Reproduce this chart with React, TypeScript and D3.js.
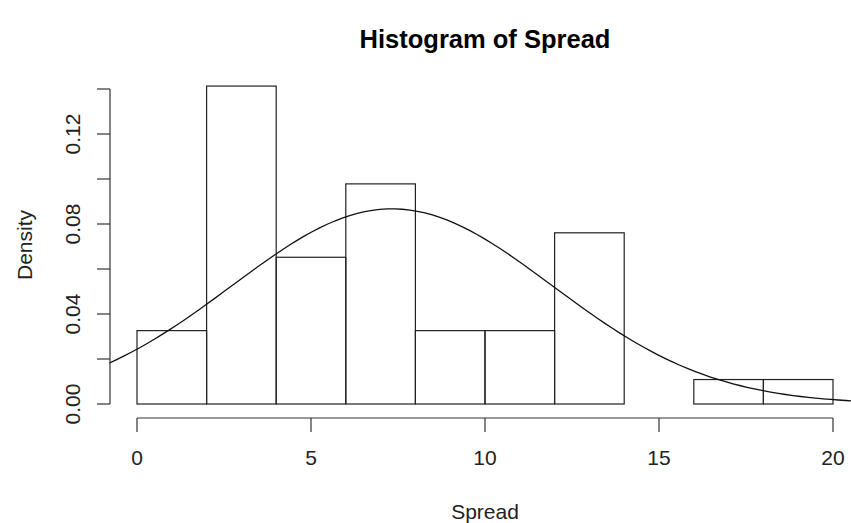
import React from "react";
import * as d3 from "d3";

const binEdges = [0, 2, 4, 6, 8, 10, 12, 14, 16, 18, 20];
const binCounts = [3, 13, 6, 9, 3, 3, 7, 0, 1, 1];
const xTicks = [0, 5, 10, 15, 20];
const yTicks = [0, 0.02, 0.04, 0.06, 0.08, 0.1, 0.12, 0.14];
const yTickLabels = ["0.00", "", "0.04", "", "0.08", "", "0.12", ""];
const fitMean = 7.33;
const fitSd = 4.6;
const title = "Histogram of Spread";
const xLabel = "Spread";
const yLabel = "Density";

const W = 851;
const H = 523;

export default function App() {
  const total = d3.sum(binCounts);
  const width = binEdges[1] - binEdges[0];
  const bins = binCounts.map((c, i) => ({
    x0: binEdges[i],
    x1: binEdges[i + 1],
    d: c / (total * width),
  }));

  // plot region (R style: 4% extension)
  const xDom: [number, number] = [-0.8, 20.8];
  const yDom: [number, number] = [-0.0056, 0.1466];
  const x = d3.scaleLinear().domain([0, 20]).range([137, 833]);
  const y = d3.scaleLinear().domain([0, 0.14]).range([404, 89]);
  const px0 = x(xDom[0]);
  const px1 = x(xDom[1]);
  const py0 = y(yDom[0]);
  const py1 = y(yDom[1]);

  const dnorm = (v: number) =>
    Math.exp(-((v - fitMean) ** 2) / (2 * fitSd * fitSd)) / (fitSd * Math.sqrt(2 * Math.PI));
  const n = 101;
  const pts = d3.range(n).map((i) => xDom[0] + ((xDom[1] - xDom[0]) * i) / (n - 1));
  const line = d3
    .line<number>()
    .x((v) => x(v))
    .y((v) => y(dnorm(v)));

  const font = "'Liberation Sans', Arial, Helvetica, sans-serif";
  const axisY = 418;
  const axisX = 110;
  const fs = 21;

  return (
    <svg
      width={W}
      height={H}
      style={{ position: "absolute", left: 0, top: 0, background: "#fff" }}
      fontFamily={font}
    >
      <defs>
        <clipPath id="plotclip">
          <rect x={px0} y={py1} width={px1 - px0} height={py0 - py1} />
        </clipPath>
      </defs>
      <text x={485} y={48} textAnchor="middle" fontSize={25.5} fontWeight="bold" fill="#000">
        {title}
      </text>
      {bins.map((b, i) => (
        <rect
          key={i}
          x={x(b.x0)}
          y={y(b.d)}
          width={x(b.x1) - x(b.x0)}
          height={y(0) - y(b.d)}
          fill="none"
          stroke="#222"
          strokeWidth={1.2}
        />
      ))}
      <path
        d={line(pts) || ""}
        fill="none"
        stroke="#111"
        strokeWidth={1.3}
        clipPath="url(#plotclip)"
      />
      {/* x axis */}
      <line x1={x(0)} x2={x(20)} y1={axisY} y2={axisY} stroke="#333" strokeWidth={1.2} />
      {xTicks.map((t) => (
        <g key={t}>
          <line x1={x(t)} x2={x(t)} y1={axisY} y2={axisY + 14} stroke="#333" strokeWidth={1.2} />
          <text x={x(t)} y={457} textAnchor="middle" dominantBaseline="central" fontSize={fs} fill="#222">
            {t}
          </text>
        </g>
      ))}
      {/* y axis */}
      <line x1={axisX} x2={axisX} y1={y(0)} y2={y(0.14)} stroke="#333" strokeWidth={1.2} />
      {yTicks.map((t, i) => (
        <g key={i}>
          <line x1={axisX - 13} x2={axisX} y1={y(t)} y2={y(t)} stroke="#333" strokeWidth={1.2} />
          {yTickLabels[i] && (
            <text
              transform={`translate(72,${y(t)}) rotate(-90)`}
              textAnchor="middle"
              dominantBaseline="central"
              fontSize={fs}
              fill="#222"
            >
              {yTickLabels[i]}
            </text>
          )}
        </g>
      ))}
      <text x={485} y={511} textAnchor="middle" dominantBaseline="central" fontSize={fs} fill="#222">
        {xLabel}
      </text>
      <text
        transform={`translate(24,245) rotate(-90)`}
        textAnchor="middle"
        dominantBaseline="central"
        fontSize={fs}
        fill="#222"
      >
        {yLabel}
      </text>
    </svg>
  );
}
